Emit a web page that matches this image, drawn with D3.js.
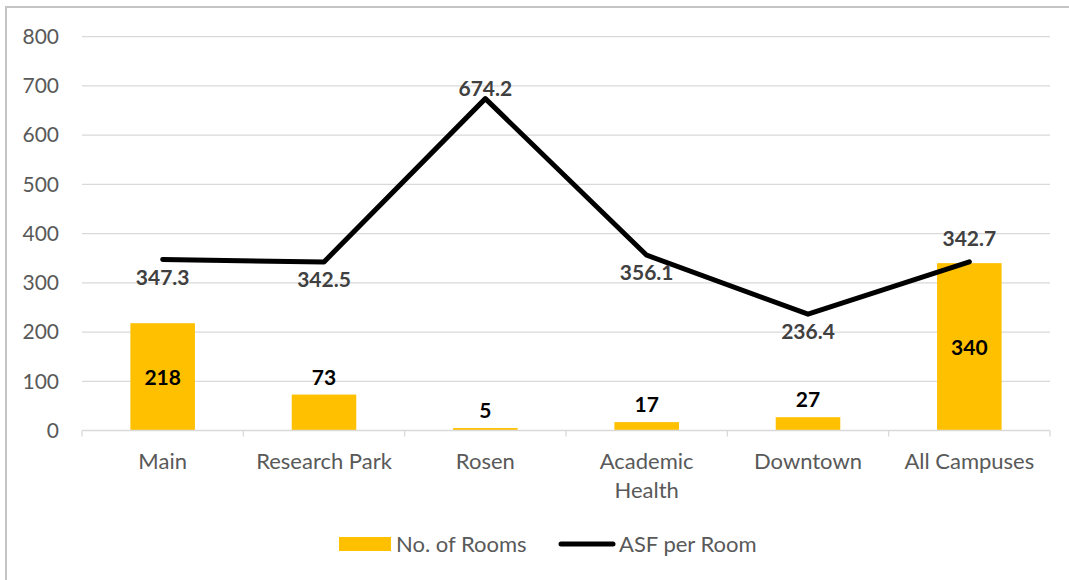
<!DOCTYPE html>
<html lang="en">
<head>
<meta charset="UTF-8">
<script src="https://d3js.org/d3.v7.min.js"></script>
<title>Rooms by Campus</title>
<style>
  body { margin: 0; background: white; }
  svg text { font-family: Lato, "Noto Sans", sans-serif; }
</style>
</head>
<body>
<svg id="chart"></svg>
<script>
const campuses = ["Main", "Research Park", "Rosen", "Academic Health", "Downtown", "All Campuses"];
const rooms = [218, 73, 5, 17, 27, 340];
const asfPerRoom = [347.3, 342.5, 674.2, 356.1, 236.4, 342.7];
const yTicks = [0, 100, 200, 300, 400, 500, 600, 700, 800];
// vertical offset of each line value label from its point (negative = above)
const lineLabelDy = [25, 25, -3, 25, 25, -16];
// bar labels: true = inside the bar (middle)
const barLabelInside = [true, false, false, false, false, true];

const w = 1069, h = 580;
const plotLeft = 82, plotRight = 1050, plotTop = 36.7, plotBottom = 430.5;

const svg = d3.select("#chart").attr("width", w).attr("height", h);

// chart frame (only top and left edges are visible in the crop)
svg.append("path")
   .attr("d", `M6,${h}V7H${w}`)
   .attr("fill", "none")
   .attr("stroke", "#c4c4c4")
   .attr("stroke-width", 2);

const x = d3.scaleBand().domain(campuses).range([plotLeft, plotRight]).paddingInner(0).paddingOuter(0);
const y = d3.scaleLinear().domain([0, 800]).range([plotBottom, plotTop]);

// gridlines
svg.append("g")
   .selectAll("line")
   .data(yTicks.filter(d => d > 0))
   .enter().append("line")
   .attr("x1", plotLeft).attr("x2", plotRight)
   .attr("y1", d => y(d)).attr("y2", d => y(d))
   .attr("stroke", "#d9d9d9").attr("stroke-width", 1.3);

// y axis labels
const yAxis = d3.axisLeft(y).tickValues(yTicks).tickSize(0).tickPadding(23);
const gy = svg.append("g").attr("transform", `translate(${plotLeft},0)`).call(yAxis);
gy.select(".domain").remove();
gy.selectAll("text")
  .style("font-size", "21px").attr("fill", "#595959");

// bars
const barW = x.bandwidth() * 0.4;
svg.append("g")
   .selectAll("rect")
   .data(campuses)
   .enter().append("rect")
   .attr("x", d => x(d) + (x.bandwidth() - barW) / 2)
   .attr("width", barW)
   .attr("y", (d, i) => y(rooms[i]))
   .attr("height", (d, i) => y(0) - y(rooms[i]))
   .attr("fill", "#FFC000");

// x axis line and category ticks
svg.append("line")
   .attr("x1", plotLeft).attr("x2", plotRight)
   .attr("y1", plotBottom).attr("y2", plotBottom)
   .attr("stroke", "#d9d9d9").attr("stroke-width", 1.3);
svg.append("g")
   .selectAll("line")
   .data(d3.range(campuses.length + 1))
   .enter().append("line")
   .attr("x1", i => plotLeft + i * x.step()).attr("x2", i => plotLeft + i * x.step())
   .attr("y1", plotBottom).attr("y2", plotBottom + 6)
   .attr("stroke", "#d9d9d9").attr("stroke-width", 1.3);

// category labels
const catLabels = svg.append("g")
   .selectAll("text")
   .data(campuses)
   .enter().append("text")
   .attr("x", d => x(d) + x.bandwidth() / 2)
   .attr("y", 469)
   .attr("text-anchor", "middle")
   .style("font-size", "22px")
   .attr("fill", "#595959");
catLabels.each(function(d) {
  const t = d3.select(this);
  const parts = d === "Academic Health" ? ["Academic", "Health"] : [d];
  parts.forEach((p, k) => {
    t.append("tspan").attr("x", x(d) + x.bandwidth() / 2).attr("dy", k === 0 ? 0 : 29).text(p);
  });
});

// line
const line = d3.line()
  .x((d, i) => x(campuses[i]) + x.bandwidth() / 2)
  .y(d => y(d));
svg.append("path")
   .datum(asfPerRoom)
   .attr("d", line)
   .attr("fill", "none")
   .attr("stroke", "black")
   .attr("stroke-width", 5)
   .attr("stroke-linecap", "round")
   .attr("stroke-linejoin", "round");

// line labels
svg.append("g")
   .selectAll("text")
   .data(asfPerRoom)
   .enter().append("text")
   .attr("x", (d, i) => x(campuses[i]) + x.bandwidth() / 2)
   .attr("y", (d, i) => y(d) + lineLabelDy[i])
   .attr("text-anchor", "middle")
   .style("font-size", "21px").style("font-weight", "bold")
   .attr("fill", "#404040")
   .text(d => d.toFixed(1));

// bar labels
svg.append("g")
   .selectAll("text")
   .data(rooms)
   .enter().append("text")
   .attr("x", (d, i) => x(campuses[i]) + x.bandwidth() / 2)
   .attr("y", (d, i) => barLabelInside[i] ? (y(d) + y(0)) / 2 + 8 : y(d) - 10)
   .attr("text-anchor", "middle")
   .style("font-size", "21px").style("font-weight", "bold")
   .attr("fill", "black")
   .text(d => d);

// legend
const lg = svg.append("g");
lg.append("rect").attr("x", 339).attr("y", 537).attr("width", 52).attr("height", 14).attr("fill", "#FFC000");
lg.append("text").attr("x", 396).attr("y", 552).style("font-size", "22px").attr("fill", "#595959").text("No. of Rooms");
lg.append("line").attr("x1", 561).attr("x2", 613).attr("y1", 544).attr("y2", 544)
  .attr("stroke", "black").attr("stroke-width", 5).attr("stroke-linecap", "round");
lg.append("text").attr("x", 619).attr("y", 552).style("font-size", "22px").attr("fill", "#595959").text("ASF per Room");
</script>
</body>
</html>
